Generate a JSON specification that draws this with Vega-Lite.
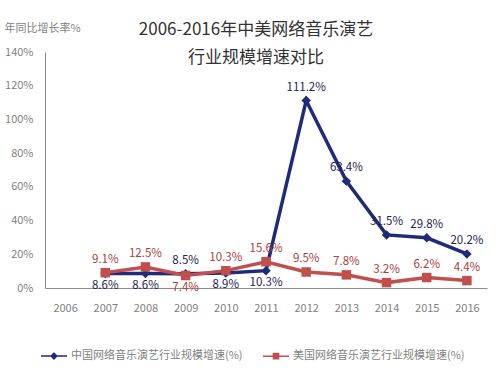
{
  "$schema": "https://vega.github.io/schema/vega-lite/v6.json",
  "autosize": {"type": "none"},
  "width": 442,
  "height": 236,
  "padding": {"left": 45, "top": 52, "right": 11, "bottom": 81},
  "background": "white",
  "config": {
    "view": {"stroke": null},
    "font": "Noto Sans CJK SC"
  },
  "title": {
    "text": ["2006-2016年中美网络音乐演艺", "行业规模增速对比"],
    "fontSize": 17,
    "fontWeight": "normal",
    "color": "#333333",
    "lineHeight": 28,
    "anchor": "middle",
    "baseline": "middle",
    "dx": -10,
    "dy": 53,
    "offset": 0
  },
  "data": {
    "values": [
      {"year": "2007", "series": "中国网络音乐演艺行业规模增速(%)", "value": 8.6},
      {"year": "2008", "series": "中国网络音乐演艺行业规模增速(%)", "value": 8.6},
      {"year": "2009", "series": "中国网络音乐演艺行业规模增速(%)", "value": 8.5},
      {"year": "2010", "series": "中国网络音乐演艺行业规模增速(%)", "value": 8.9},
      {"year": "2011", "series": "中国网络音乐演艺行业规模增速(%)", "value": 10.3},
      {"year": "2012", "series": "中国网络音乐演艺行业规模增速(%)", "value": 111.2},
      {"year": "2013", "series": "中国网络音乐演艺行业规模增速(%)", "value": 63.4},
      {"year": "2014", "series": "中国网络音乐演艺行业规模增速(%)", "value": 31.5},
      {"year": "2015", "series": "中国网络音乐演艺行业规模增速(%)", "value": 29.8},
      {"year": "2016", "series": "中国网络音乐演艺行业规模增速(%)", "value": 20.2},
      {"year": "2007", "series": "美国网络音乐演艺行业规模增速(%)", "value": 9.1},
      {"year": "2008", "series": "美国网络音乐演艺行业规模增速(%)", "value": 12.5},
      {"year": "2009", "series": "美国网络音乐演艺行业规模增速(%)", "value": 7.4},
      {"year": "2010", "series": "美国网络音乐演艺行业规模增速(%)", "value": 10.3},
      {"year": "2011", "series": "美国网络音乐演艺行业规模增速(%)", "value": 15.6},
      {"year": "2012", "series": "美国网络音乐演艺行业规模增速(%)", "value": 9.5},
      {"year": "2013", "series": "美国网络音乐演艺行业规模增速(%)", "value": 7.8},
      {"year": "2014", "series": "美国网络音乐演艺行业规模增速(%)", "value": 3.2},
      {"year": "2015", "series": "美国网络音乐演艺行业规模增速(%)", "value": 6.2},
      {"year": "2016", "series": "美国网络音乐演艺行业规模增速(%)", "value": 4.4}
    ]
  },
  "encoding": {
    "x": {
      "field": "year",
      "type": "ordinal",
      "scale": {"domain": ["2006","2007","2008","2009","2010","2011","2012","2013","2014","2015","2016"], "paddingInner": 0, "paddingOuter": 0},
      "axis": {
        "title": null,
        "labelAngle": 0,
        "ticks": false,
        "labelPadding": 14,
        "labelFontSize": 11,
        "labelColor": "#7f7f7f",
        "domainColor": "#8c8c8c",
        "labelFont": "Noto Sans CJK SC"
      }
    },
    "y": {
      "field": "value",
      "type": "quantitative",
      "scale": {"domain": [0, 140], "nice": false},
      "axis": {
        "values": [0, 20, 40, 60, 80, 100, 120, 140],
        "labelExpr": "datum.value + '%'",
        "grid": false,
        "ticks": false,
        "labelPadding": 12,
        "labelFontSize": 11,
        "labelColor": "#7f7f7f",
        "domainColor": "#8c8c8c",
        "title": "年同比增长率%",
        "titleAngle": 0,
        "titleAlign": "left",
        "titleBaseline": "middle",
        "titleX": -41,
        "titleY": -24,
        "titleFontSize": 11,
        "titleFontWeight": "normal",
        "titleColor": "#7f7f7f"
      }
    }
  },
  "layer": [
    {
      "mark": {"type": "line", "strokeWidth": 3.5},
      "encoding": {
        "color": {
          "field": "series",
          "type": "nominal",
          "scale": {"domain": ["中国网络音乐演艺行业规模增速(%)", "美国网络音乐演艺行业规模增速(%)"], "range": ["#1f2a78", "#c0504d"]},
          "legend": {
            "title": null,
            "orient": "none",
            "direction": "horizontal",
            "legendX": -5,
            "legendY": 290,
            "padding": 0,
            "columnPadding": 17,
            "symbolSize": 676,
            "labelFontSize": 11,
            "labelLimit": 400,
            "labelColor": "#7f7f7f",
            "labelOffset": 3,
            "labelFont": "Noto Sans CJK SC",
            "encode": {
              "symbols": {
                "update": {
                  "shape": {"signal": "datum.value === '中国网络音乐演艺行业规模增速(%)' ? 'M-1,0H1M0,-0.22L0.22,0L0,0.22L-0.22,0Z' : 'M-1,0H1M-0.2,-0.2H0.2V0.2H-0.2Z'"},
                  "fill": {"signal": "datum.value === '中国网络音乐演艺行业规模增速(%)' ? '#1f2a78' : '#c0504d'"},
                  "stroke": {"signal": "datum.value === '中国网络音乐演艺行业规模增速(%)' ? '#1f2a78' : '#c0504d'"},
                  "strokeWidth": {"value": 1.5}
                }
              }
            }
          }
        }
      }
    },
    {
      "mark": {"type": "point", "filled": true, "opacity": 1, "size": 90},
      "encoding": {
        "color": {"field": "series", "type": "nominal"},
        "shape": {"condition": {"test": "datum.series === '中国网络音乐演艺行业规模增速(%)'", "value": "diamond"}, "value": "square"}
      }
    },
    {
      "transform": [
        {"calculate": "format(datum.value, '.1f') + '%'", "as": "label"},
        {"filter": "!((datum.series === '中国网络音乐演艺行业规模增速(%)' && indexof(['2007','2008','2010','2011'], datum.year) >= 0) || (datum.series === '美国网络音乐演艺行业规模增速(%)' && datum.year === '2009'))"}
      ],
      "mark": {"type": "text", "dy": -13, "fontSize": 11.5, "font": "Noto Sans CJK SC"},
      "encoding": {
        "text": {"field": "label", "type": "nominal"},
        "color": {"condition": {"test": "datum.series === '中国网络音乐演艺行业规模增速(%)'", "value": "#1f2350"}, "value": "#a8403c"}
      }
    },
    {
      "transform": [
        {"calculate": "format(datum.value, '.1f') + '%'", "as": "label"},
        {"filter": "(datum.series === '中国网络音乐演艺行业规模增速(%)' && indexof(['2007','2008','2010','2011'], datum.year) >= 0) || (datum.series === '美国网络音乐演艺行业规模增速(%)' && datum.year === '2009')"}
      ],
      "mark": {"type": "text", "dy": 12, "fontSize": 11.5, "font": "Noto Sans CJK SC"},
      "encoding": {
        "text": {"field": "label", "type": "nominal"},
        "color": {"condition": {"test": "datum.series === '中国网络音乐演艺行业规模增速(%)'", "value": "#1f2350"}, "value": "#a8403c"}
      }
    }
  ]
}
